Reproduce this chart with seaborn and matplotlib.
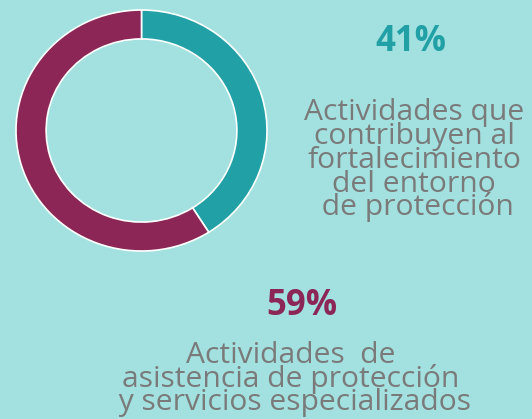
import matplotlib
matplotlib.use("Agg")
import matplotlib.pyplot as plt
import seaborn as sns

# Share of activities by type
categories = ["fortalecimiento", "asistencia"]
shares = [41, 59]
pct_labels = ["41%", "59%"]
label_lines_top = ["Actividades que", "contribuyen al", "fortalecimiento",
                   "del entorno", " de protección"]
label_lines_bottom = ["Actividades  de", "asistencia de protección",
                      " y servicios especializados"]

BG = "#a3e1e0"
TEAL = "#21a0a6"
PLUM = "#8b2657"
GREY = "#7a7a7a"

sns.set_theme(style="white")
plt.rcParams["font.family"] = ["Open Sans", "DejaVu Sans"]

W, H = 532, 419
fig = plt.figure(figsize=(W / 100, H / 100), dpi=100, facecolor=BG)

# Donut ring
ax = fig.add_axes([16 / W, 1 - 251 / H, 251 / W, 241 / H])
ax.set_facecolor(BG)
palette = sns.color_palette([TEAL, PLUM])
ax.pie(shares, colors=palette, startangle=90, counterclock=False, radius=1,
       wedgeprops=dict(width=0.24, edgecolor="white", linewidth=1.2))
ax.set_aspect("auto")
ax.set_xlim(-1, 1)
ax.set_ylim(-1, 1)
ax.axis("off")


def px(x, y):
    return x / W, 1 - y / H


# Percent labels
fig.text(*px(411, 42), pct_labels[0], ha="center", va="center",
         fontsize=25, fontweight="bold", color=TEAL)
fig.text(*px(302, 306), pct_labels[1], ha="center", va="center",
         fontsize=25, fontweight="bold", color=PLUM)

# Descriptions, one line at a time on their baselines
top_baselines = [120, 144, 168, 192, 215]
for line, yb in zip(label_lines_top, top_baselines):
    fig.text(*px(414, yb), line, ha="center", va="baseline",
             fontsize=21.6, color=GREY)

bottom_baselines = [363, 387, 410]
for line, yb in zip(label_lines_bottom, bottom_baselines):
    fig.text(*px(291, yb), line, ha="center", va="baseline",
             fontsize=21.6, color=GREY)

fig.savefig("out.png", dpi=100, facecolor=BG)
